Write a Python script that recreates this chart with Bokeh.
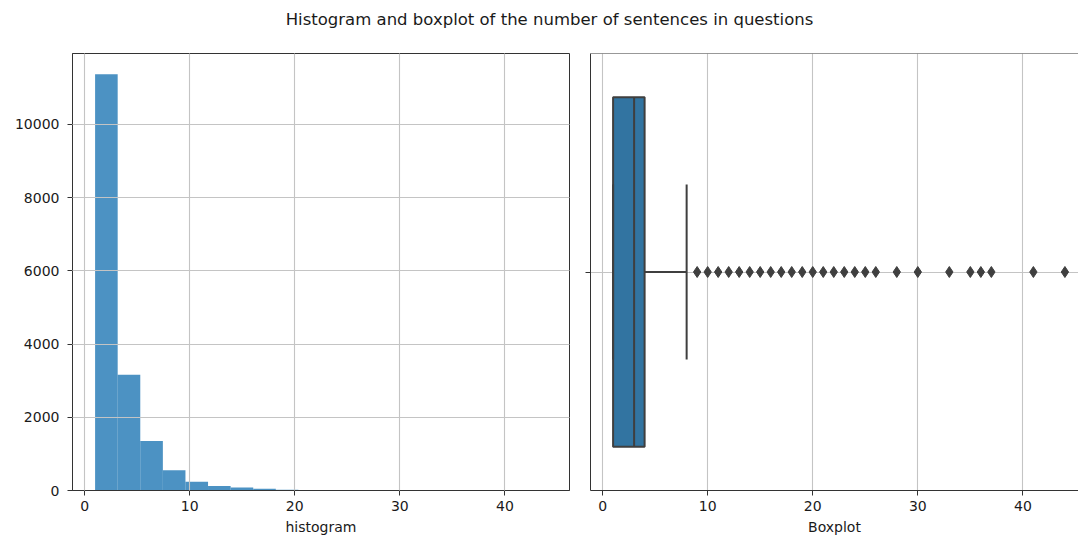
from bokeh.plotting import figure
from bokeh.layouts import column, row
from bokeh.models import Range1d, SingleIntervalTicker, FixedTicker, Span
from bokeh.core.properties import value
from bokeh.embed import file_html
from bokeh.resources import INLINE

# Number of sentences per question: 20 equal-width histogram bins on [1, 44]
bin_start = 1.0
bin_stop = 44.0
bin_counts = [11370, 3160, 1350, 550, 240, 120, 85, 45, 20, 10,
              6, 3, 1, 1, 1, 1, 2, 0, 1, 1]

# Box plot statistics of the same distribution
box_q1 = 1
box_median = 3
box_q3 = 4
whisker_low = 1
whisker_high = 8
outlier_values = [9, 10, 11, 12, 13, 14, 15, 16, 17, 18, 19, 20, 21, 22, 23,
                  24, 25, 26, 28, 30, 33, 35, 36, 37, 41, 44]

title_text = "Histogram and boxplot of the number of sentences in questions"
hist_label = "histogram"
box_label = "Boxplot"

FONT = "DejaVu Sans"
TEXT_COLOR = "#1a1a1a"
SPINE = "#333333"
GRID = "#c4c4c4"
BOX_FILL = "#3274a1"
BOX_LINE = "#3f3f3f"

n_bins = len(bin_counts)
width = (bin_stop - bin_start) / n_bins
lefts = [bin_start + i * width for i in range(n_bins)]
rights = [bin_start + (i + 1) * width for i in range(n_bins)]

pad = 0.05 * (bin_stop - bin_start)
x_lo = bin_start - pad
px_per_unit = 497 / ((bin_stop + pad) - x_lo)


def style_axes(p):
    for ax in p.axis:
        ax.major_label_text_font = FONT
        ax.major_label_text_font_size = "14px"
        ax.major_label_text_color = TEXT_COLOR
        ax.axis_label_text_font = FONT
        ax.axis_label_text_font_size = "14px"
        ax.axis_label_text_font_style = "normal"
        ax.axis_label_text_color = TEXT_COLOR
        ax.axis_line_color = SPINE
        ax.axis_line_width = 1
        ax.major_tick_line_color = SPINE
        ax.major_tick_out = 5
        ax.major_tick_in = 0
        ax.minor_tick_line_color = None
    p.grid.grid_line_color = GRID
    p.grid.grid_line_width = 1.1


# Title strip
pt = figure(width=1078, height=40, x_range=Range1d(0, 1078), y_range=Range1d(0, 40),
            toolbar_location=None, output_backend="svg", min_border=0)
pt.axis.visible = False
pt.grid.visible = False
pt.outline_line_color = None
pt.text(x=[549], y=[21], text=[title_text], text_font=value(FONT),
        text_font_size="16.5px", text_color=TEXT_COLOR,
        text_align="center", text_baseline="middle")

# Histogram
p1 = figure(width=580, height=499, toolbar_location=None, output_backend="svg",
            x_range=Range1d(x_lo, bin_stop + pad),
            y_range=Range1d(0, max(bin_counts) * 1.05),
            min_border_left=72, min_border_right=11,
            min_border_top=13, min_border_bottom=49)
p1.quad(left=lefts, right=rights, bottom=0, top=bin_counts,
        fill_color="#1f77b4", fill_alpha=0.8, line_color=None)
p1.xaxis.ticker = SingleIntervalTicker(interval=10)
p1.yaxis.ticker = SingleIntervalTicker(interval=2000)
p1.xaxis.axis_label = hist_label
p1.xaxis.major_label_standoff = 5
p1.xaxis.axis_label_standoff = 5
p1.yaxis.major_label_standoff = 8
p1.outline_line_color = SPINE
p1.outline_line_width = 1
style_axes(p1)
p1.grid.level = "overlay"

# Box plot
p2 = figure(width=498, height=499, toolbar_location=None, output_backend="svg",
            x_range=Range1d(x_lo, x_lo + 488 / px_per_unit),
            y_range=Range1d(-0.5, 0.5),
            min_border_left=10, min_border_right=0,
            min_border_top=13, min_border_bottom=49)
p2.xaxis.ticker = SingleIntervalTicker(interval=10)
p2.yaxis.ticker = FixedTicker(ticks=[0])
p2.xaxis.axis_label = box_label
p2.xaxis.major_label_standoff = 5
p2.xaxis.axis_label_standoff = 5
p2.outline_line_color = None
style_axes(p2)
# the single category tick on the left carries no label
p2.yaxis.major_label_overrides = {0: ""}
p2.yaxis.major_label_standoff = 0
p2.add_layout(Span(location=0.5, dimension="width", line_color=SPINE, line_width=1))

p2.quad(left=[box_q1], right=[box_q3], bottom=[-0.4], top=[0.4],
        fill_color=BOX_FILL, line_color=BOX_LINE, line_width=2)
p2.segment(x0=[box_median], x1=[box_median], y0=[-0.4], y1=[0.4],
           line_color=BOX_LINE, line_width=2)
p2.segment(x0=[box_q3, box_q1], x1=[whisker_high, whisker_low], y0=[0, 0], y1=[0, 0],
           line_color=BOX_LINE, line_width=2)
p2.segment(x0=[whisker_low, whisker_high], x1=[whisker_low, whisker_high],
           y0=[-0.2, -0.2], y1=[0.2, 0.2], line_color=BOX_LINE, line_width=2)
p2.scatter(x=outlier_values, y=[0] * len(outlier_values), marker="diamond", size=11,
           fill_color=BOX_LINE, line_color=BOX_LINE)

layout = column(pt, row(p1, p2))
open("out.html", "w").write(file_html(layout, INLINE))
